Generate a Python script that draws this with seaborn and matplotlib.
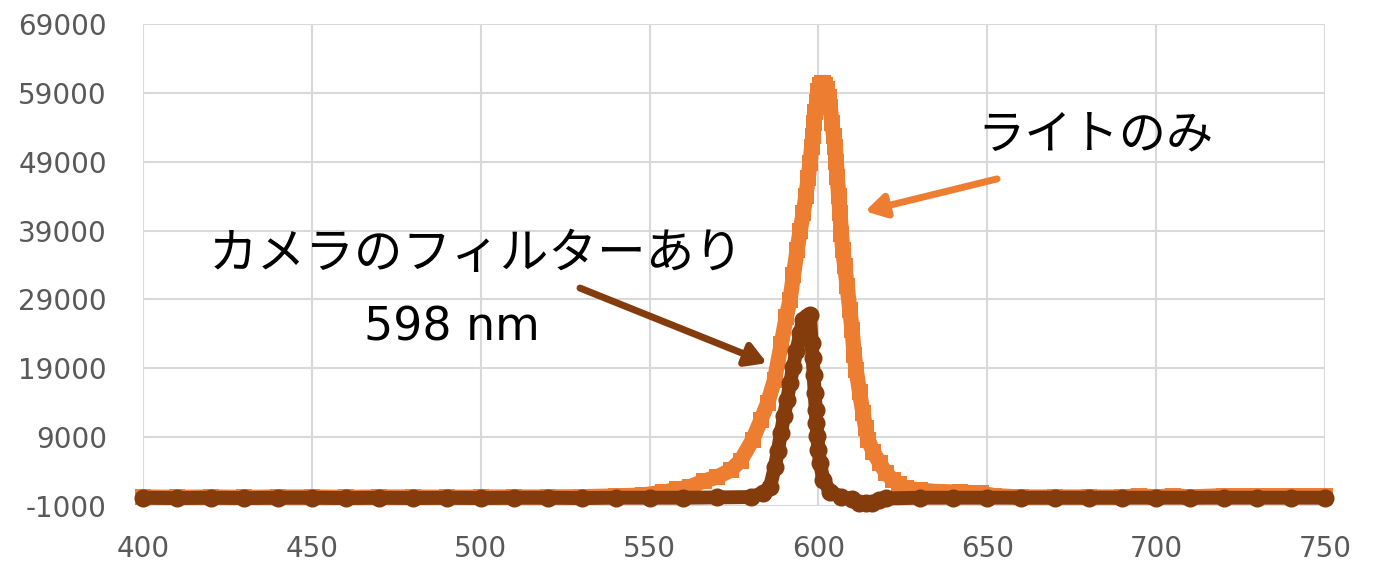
import matplotlib
matplotlib.use("Agg")
import matplotlib.pyplot as plt
import seaborn as sns
import pandas as pd

# Spectrum of the light alone (nm, counts)
light_nm = [400, 410, 420, 430, 440, 450, 460, 470, 480, 490, 500, 510, 520, 530,
            540, 548, 554, 558, 562, 566, 570, 574, 577, 580.5, 583, 585, 587, 589,
            590.5, 591.6, 592.6, 593.7, 594.6, 595.5, 596.3, 597, 597.5, 598, 598.4,
            598.7, 599.1, 599.5, 600, 600.5, 601, 601.5, 602, 602.5, 603, 603.5, 604,
            604.5, 605, 605.3, 605.6, 606, 606.4, 606.8, 607.2, 607.8, 608.5, 609.3,
            610, 610.6, 611.2, 612.2, 613.2, 614, 614.7, 616.3, 618.2, 620, 622, 624,
            626, 630, 635, 642, 648, 652, 660, 670, 680, 690, 695, 700, 705, 710, 720,
            730, 740, 750]
light_val = [300, 250, 300, 250, 300, 300, 250, 300, 300, 250, 300, 300, 300, 350,
             450, 600, 1000, 1400, 1800, 2600, 3200, 4200, 5600, 8600, 11500, 14000, 17300, 22500,
             26500, 28900, 32500, 36200, 39000, 41500, 44000, 46700, 48800, 51100, 52800,
             54600, 56200, 57600, 59200, 60100, 60500, 60500, 60200, 59500, 58400, 57000, 54600,
             52800, 51100, 49000, 46800, 44000, 41500, 38500, 36200, 33800, 31000, 27500,
             24500, 21000, 18700, 15500, 12500, 10300, 8600, 6800, 5200, 3800, 2800, 2200,
             1600, 1300, 1100, 1000, 900, 500, 300, 300, 300, 300, 500, 300, 500, 300, 500,
             500, 500, 500]

# Spectrum through the camera filter (nm, counts)
filter_nm = [400, 410, 420, 430, 440, 450, 460, 470, 480, 490, 500, 510, 520, 530,
             540, 550, 560, 570, 580, 583.6, 585.7, 587.1, 588, 588.9, 589.8, 590.7,
             591.6, 592.5, 593.5, 594.6, 595.4, 596.5, 597.5, 598, 598.3, 598.6, 598.9,
             599.2, 599.4, 599.7, 600, 600.5, 601.4, 603.5, 606.8, 610, 612, 614, 616,
             618, 620, 630, 640, 650, 660, 670, 680, 690, 700, 710, 720, 730, 740, 750]
filter_val = [200, 150, 200, 150, 200, 200, 150, 200, 150, 200, 150, 200, 200, 150,
              200, 200, 200, 250, 300, 900, 1800, 4700, 7000, 9600, 12000, 14400,
              16800, 19200, 21500, 24100, 26000, 26500, 26700, 22700, 20500, 18000, 15400,
              13000, 11100, 9100, 7200, 5300, 2800, 1100, 300, 0, -500, -600, -500,
              -100, 100, 200, 200, 200, 200, 200, 200, 200, 200, 200, 200, 200, 200, 200]

x_ticks = [400, 450, 500, 550, 600, 650, 700, 750]
x_tick_labels = ["400", "450", "500", "550", "600", "650", "700", "750"]
y_ticks = [-1000, 9000, 19000, 29000, 39000, 49000, 59000, 69000]
y_tick_labels = ["-1000", "9000", "19000", "29000", "39000", "49000", "59000", "69000"]

light_label = "ライトのみ"
filter_label = "カメラのフィルターあり"
peak_label = "598 nm"

ORANGE = "#ED7D31"
BROWN = "#843C0C"
GRID = "#D9D9D9"
TICK = "#595959"
JP_FONT = ["Noto Sans CJK JP", "DejaVu Sans"]

sns.set_style("white")

light_df = pd.DataFrame({"nm": light_nm, "counts": light_val})
filter_df = pd.DataFrame({"nm": filter_nm, "counts": filter_val})

fig = plt.figure(figsize=(13.88, 5.66), dpi=100)
ax = fig.add_axes([0.1030, 0.1060, 0.8516, 0.8516])

sns.lineplot(data=light_df, x="nm", y="counts", ax=ax, color=ORANGE, sort=False,
             linewidth=11, marker="s", markersize=12, markeredgewidth=0,
             solid_capstyle="butt", solid_joinstyle="miter", clip_on=False, zorder=3)
sns.lineplot(data=filter_df, x="nm", y="counts", ax=ax, color=BROWN, sort=False,
             linewidth=10, marker="o", markersize=13, markeredgewidth=0,
             solid_capstyle="round", clip_on=False, zorder=4)

ax.set_xlim(400, 750)
ax.set_ylim(-1000, 69000)
ax.set_xticks(x_ticks)
ax.set_xticklabels(x_tick_labels)
ax.set_yticks(y_ticks)
ax.set_yticklabels(y_tick_labels)
ax.tick_params(axis="both", length=0, labelsize=20, labelcolor=TICK)
ax.tick_params(axis="y", pad=26)
ax.tick_params(axis="x", pad=21)
ax.set_xlabel("")
ax.set_ylabel("")

ax.grid(True, color=GRID, linewidth=1.5, zorder=0)
ax.set_axisbelow(True)
for side in ax.spines.values():
    side.set_visible(False)

# Annotations
ax.text(647.0, 52700, light_label, fontsize=34, family=JP_FONT,
        ha="left", va="center", color="black")
ax.text(419.5, 35500, filter_label, fontsize=35, family=JP_FONT,
        ha="left", va="center", color="black")
ax.text(465.5, 24800, peak_label, fontsize=33, family="DejaVu Sans",
        ha="left", va="center", color="black")

arrow_style = dict(arrowstyle="-|>,head_length=1.2,head_width=0.7",
                   linewidth=5, shrinkA=0, shrinkB=0)
ax.annotate("", xy=(613.8, 41800), xytext=(652.9, 46500),
            arrowprops=dict(color=ORANGE, **arrow_style), zorder=5)
ax.annotate("", xy=(584.8, 19750), xytext=(529.4, 30650),
            arrowprops=dict(color=BROWN, **arrow_style), zorder=5)

fig.savefig("out.png", dpi=100)
